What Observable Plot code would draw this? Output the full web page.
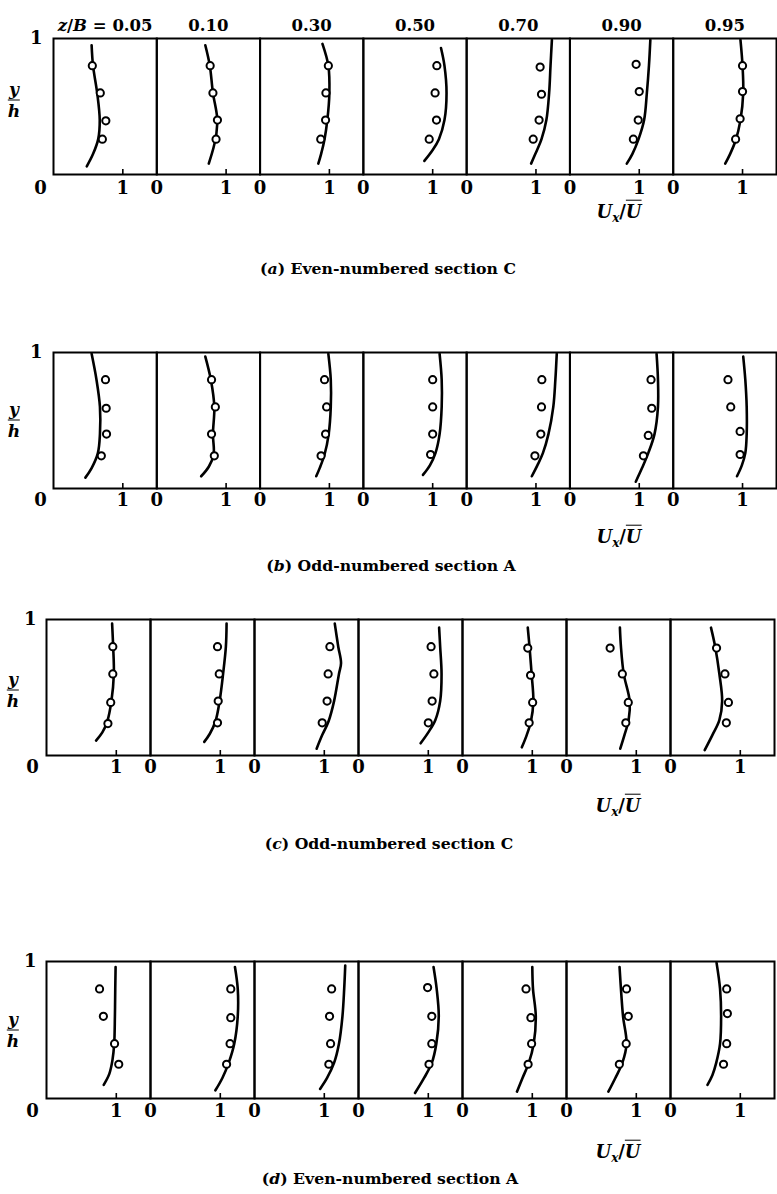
<!DOCTYPE html>
<html><head><meta charset="utf-8">
<script src="https://cdn.jsdelivr.net/npm/d3@7"></script>
<script src="https://cdn.jsdelivr.net/npm/@observablehq/plot@0.6"></script>
<style>
body{margin:0;background:#fff;}
#page{position:relative;width:777px;height:1194px;overflow:hidden;font-family:"DejaVu Serif",serif;color:#000;background:#fff;}
.row{position:absolute;left:0;}
.frac{position:absolute;display:flex;flex-direction:column;align-items:center;font-style:italic;font-weight:bold;font-size:17px;line-height:1;transform:translate(-50%,-50%);}
.frac .bar{width:12px;border-top:1.8px solid #000;margin:2px 0;}
.ulab{position:absolute;font-weight:bold;font-size:18px;transform:translate(-50%,-50%);white-space:nowrap;}
.ulab i{font-style:italic;}
.ulab sub{font-size:12px;font-style:italic;}
.cap{position:absolute;font-weight:bold;font-size:15.7px;transform:translate(-50%,-50%);white-space:nowrap;}
</style></head><body><div id="page"></div>
<script>
// z/B positions (facets)
const zB = ["0.05","0.10","0.30","0.50","0.70","0.90","0.95"];
const xTicks = [0, 1];
const yTicks = [1];

// each panel: [y/h, Ux/U] pairs, curve listed top -> bottom
const curveA = [
  [[0.95,0.55],[0.8,0.57],[0.6,0.63],[0.4,0.667],[0.26,0.645],[0.15,0.57],[0.06,0.48]],
  [[0.95,0.70],[0.8,0.765],[0.6,0.81],[0.42,0.87],[0.3,0.86],[0.2,0.82],[0.08,0.75]],
  [[0.96,0.90],[0.8,0.985],[0.6,1.0],[0.4,0.97],[0.26,0.93],[0.15,0.88],[0.08,0.84]],
  [[0.93,1.12],[0.8,1.17],[0.6,1.2],[0.4,1.17],[0.26,1.09],[0.18,1.0],[0.1,0.88]],
  [[0.99,1.23],[0.8,1.21],[0.6,1.19],[0.4,1.15],[0.26,1.08],[0.15,0.99],[0.08,0.93]],
  [[0.99,1.16],[0.8,1.14],[0.6,1.11],[0.4,1.07],[0.26,0.99],[0.15,0.9],[0.08,0.82]],
  [[0.99,0.97],[0.8,1.0],[0.6,1.01],[0.4,0.97],[0.25,0.9],[0.15,0.82],[0.08,0.75]]
];
const circA = [
  [[0.8,0.56],[0.6,0.675],[0.395,0.755],[0.26,0.705]],
  [[0.8,0.77],[0.6,0.81],[0.4,0.875],[0.26,0.855]],
  [[0.8,0.985],[0.6,0.95],[0.4,0.945],[0.26,0.875]],
  [[0.8,1.06],[0.6,1.035],[0.4,1.055],[0.26,0.95]],
  [[0.79,1.06],[0.59,1.08],[0.4,1.045],[0.26,0.96]],
  [[0.81,0.955],[0.61,1.0],[0.4,0.985],[0.26,0.915]],
  [[0.8,1.0],[0.61,1.0],[0.41,0.965],[0.26,0.9]]
];
const curveB = [
  [[0.99,0.55],[0.8,0.62],[0.6,0.67],[0.4,0.67],[0.26,0.64],[0.15,0.55],[0.08,0.46]],
  [[0.97,0.70],[0.8,0.78],[0.6,0.83],[0.4,0.81],[0.25,0.82],[0.16,0.75],[0.09,0.64]],
  [[0.99,0.985],[0.8,1.02],[0.6,1.02],[0.4,0.99],[0.25,0.93],[0.15,0.86],[0.09,0.81]],
  [[0.99,1.10],[0.8,1.13],[0.6,1.13],[0.4,1.10],[0.26,1.04],[0.17,0.96],[0.1,0.86]],
  [[0.99,1.30],[0.8,1.28],[0.6,1.25],[0.4,1.18],[0.26,1.1],[0.17,1.02],[0.09,0.94]],
  [[0.99,1.25],[0.8,1.27],[0.6,1.27],[0.4,1.22],[0.26,1.13],[0.15,1.04],[0.05,0.95]],
  [[0.97,1.01],[0.8,1.04],[0.6,1.06],[0.4,1.06],[0.26,1.04],[0.17,0.99],[0.09,0.92]]
];
const circB = [
  [[0.8,0.75],[0.59,0.76],[0.4,0.765],[0.24,0.69]],
  [[0.8,0.79],[0.6,0.845],[0.4,0.79],[0.24,0.83]],
  [[0.8,0.93],[0.6,0.96],[0.4,0.945],[0.24,0.88]],
  [[0.8,1.0],[0.6,1.0],[0.4,1.0],[0.25,0.97]],
  [[0.8,1.085],[0.6,1.08],[0.4,1.07],[0.24,0.985]],
  [[0.8,1.17],[0.59,1.18],[0.39,1.13],[0.24,1.06]],
  [[0.8,0.79],[0.6,0.83],[0.42,0.965],[0.25,0.965]]
];
const curveC = [
  [[0.97,0.94],[0.8,0.955],[0.6,0.965],[0.4,0.93],[0.25,0.87],[0.17,0.8],[0.11,0.71]],
  [[0.97,1.09],[0.8,1.08],[0.6,1.04],[0.4,0.99],[0.25,0.93],[0.16,0.85],[0.1,0.77]],
  [[0.97,1.15],[0.8,1.2],[0.68,1.24],[0.6,1.21],[0.4,1.14],[0.25,1.06],[0.15,0.97],[0.05,0.89]],
  [[0.94,1.155],[0.8,1.17],[0.6,1.19],[0.4,1.17],[0.26,1.1],[0.17,1.0],[0.09,0.89]],
  [[0.94,0.935],[0.8,0.96],[0.6,0.99],[0.4,1.015],[0.25,0.98],[0.15,0.92],[0.06,0.85]],
  [[0.94,0.765],[0.8,0.78],[0.6,0.82],[0.4,0.905],[0.26,0.89],[0.15,0.83],[0.05,0.77]],
  [[0.94,0.58],[0.8,0.64],[0.6,0.70],[0.4,0.74],[0.26,0.70],[0.15,0.6],[0.04,0.49]]
];
const circC = [
  [[0.8,0.95],[0.6,0.95],[0.39,0.92],[0.235,0.88]],
  [[0.8,0.96],[0.6,0.985],[0.4,0.97],[0.24,0.96]],
  [[0.8,1.08],[0.6,1.055],[0.4,1.04],[0.24,0.97]],
  [[0.8,1.04],[0.6,1.08],[0.4,1.055],[0.24,1.0]],
  [[0.79,0.935],[0.59,0.975],[0.39,1.005],[0.24,0.955]],
  [[0.79,0.625],[0.6,0.80],[0.39,0.885],[0.24,0.85]],
  [[0.79,0.66],[0.6,0.78],[0.39,0.83],[0.24,0.80]]
];
const curveD = [
  [[0.96,0.99],[0.8,0.985],[0.6,0.98],[0.4,0.97],[0.28,0.945],[0.18,0.9],[0.1,0.82]],
  [[0.96,1.21],[0.8,1.25],[0.6,1.25],[0.4,1.2],[0.26,1.12],[0.15,1.03],[0.06,0.93]],
  [[0.97,1.30],[0.8,1.285],[0.6,1.26],[0.4,1.21],[0.26,1.14],[0.15,1.04],[0.07,0.94]],
  [[0.96,1.075],[0.8,1.12],[0.6,1.15],[0.4,1.115],[0.26,1.05],[0.15,0.94],[0.04,0.81]],
  [[0.96,1.0],[0.8,1.01],[0.6,1.05],[0.4,1.02],[0.26,0.95],[0.15,0.86],[0.05,0.78]],
  [[0.96,0.76],[0.8,0.78],[0.6,0.81],[0.4,0.86],[0.26,0.80],[0.15,0.7],[0.05,0.6]],
  [[0.99,0.66],[0.8,0.71],[0.6,0.725],[0.4,0.71],[0.26,0.655],[0.17,0.6],[0.1,0.53]]
];
const circD = [
  [[0.8,0.76],[0.6,0.815],[0.4,0.975],[0.25,1.035]],
  [[0.8,1.15],[0.59,1.15],[0.4,1.14],[0.25,1.09]],
  [[0.8,1.105],[0.6,1.075],[0.4,1.09],[0.25,1.065]],
  [[0.81,0.99],[0.6,1.05],[0.4,1.05],[0.25,1.01]],
  [[0.8,0.91],[0.59,0.98],[0.4,0.99],[0.25,0.94]],
  [[0.8,0.86],[0.6,0.885],[0.4,0.855],[0.25,0.757]],
  [[0.8,0.805],[0.62,0.815],[0.4,0.805],[0.25,0.76]]
];
const captions = [["a","Even-numbered section C"],["b","Odd-numbered section A"],["c","Odd-numbered section C"],["d","Even-numbered section A"]];

const toRows = panels => panels.flatMap((pts, i) => pts.map(([y, u]) => ({z: zB[i], y, u})));

const page = document.getElementById("page");

const layout = [
  {curves: curveA, circles: circA, top: 0,   mTop: 38, frameH: 136, mLeft: 53, mRight: 1, tickDy: 19.5, firstDx: -13, yPad: 11, header: true,
   fracX: 14, fracY: 100, uX: 619, uY: 213, capX: 388, capY: 268},
  {curves: curveB, circles: circB, top: 342, mTop: 10, frameH: 136, mLeft: 53, mRight: 1, tickDy: 17, firstDx: -13, yPad: 11,
   fracX: 14, fracY: 420, uX: 619, uY: 538, capX: 391, capY: 565},
  {curves: curveC, circles: circC, top: 609, mTop: 10, frameH: 136, mLeft: 46, mRight: 3, tickDy: 17, firstDx: -14, yPad: 10,
   fracX: 13, fracY: 690, uX: 618, uY: 807, capX: 389, capY: 843},
  {curves: curveD, circles: circD, top: 951, mTop: 10, frameH: 137, mLeft: 46, mRight: 3, tickDy: 18.7, firstDx: -14, yPad: 10,
   fracX: 13, fracY: 1030, uX: 618, uY: 1153, capX: 390, capY: 1178}
];

layout.forEach((L, k) => {
  const mBottom = 30;
  const curveRows = toRows(L.curves);
  const circRows = toRows(L.circles);
  const tickRows = zB.flatMap((z, i) => xTicks.map(t => ({z, t, first: i === 0 && t === 0})));
  const marks = [
    Plot.frame({stroke: "black", strokeWidth: 2}),
    Plot.ruleX(xTicks.filter(t => t !== 0), {stroke: "black", strokeWidth: 1.6, insetTop: L.frameH - 5}),
    Plot.line(curveRows, {x: "u", y: "y", fx: "z", curve: "catmull-rom", stroke: "black", strokeWidth: 2.6}),
    Plot.dot(circRows, {x: "u", y: "y", fx: "z", r: 3.6, fill: "white", stroke: "black", strokeWidth: 2}),
    Plot.text(tickRows.filter(d => !d.first), {fx: "z", x: "t", text: d => String(d.t), frameAnchor: "bottom", dy: L.tickDy, fontSize: 18, fontWeight: "bold"}),
    Plot.text(tickRows.filter(d => d.first), {fx: "z", x: "t", text: d => String(d.t), frameAnchor: "bottom", dy: L.tickDy, dx: L.firstDx, fontSize: 18, fontWeight: "bold"}),
    Plot.axisY({ticks: yTicks, tickFormat: d => String(d), tickSize: 0, tickPadding: L.yPad, fontSize: 18, fontWeight: "bold", label: null})
  ];
  if (L.header) {
    marks.push(Plot.text(zB, {fx: d => d, text: (d, i) => i === 0 ? "z/B = " + d : d, frameAnchor: "top", dy: -19.5, fontSize: 16.5, fontWeight: "bold"}));
  }
  const chart = Plot.plot({
    width: 777,
    height: L.mTop + L.frameH + mBottom,
    marginTop: L.mTop, marginBottom: mBottom, marginLeft: L.mLeft, marginRight: L.mRight,
    style: {fontFamily: "'DejaVu Serif', serif", background: "white", color: "black"},
    x: {domain: [0, 1.49], axis: null},
    y: {domain: [0, 1]},
    fx: {domain: zB, padding: 0, round: false, axis: null},
    marks
  });
  chart.classList.add("row");
  chart.style.top = L.top + "px";
  page.appendChild(chart);

  // italic z/B in header
  chart.querySelectorAll("text").forEach(t => {
    if (t.textContent.startsWith("z/B")) {
      const v = t.textContent.split("= ")[1];
      t.innerHTML = '<tspan font-style="italic">z</tspan>/<tspan font-style="italic">B</tspan> = ' + v;
    }
  });

  const frac = document.createElement("div");
  frac.className = "frac";
  frac.style.left = L.fracX + "px";
  frac.style.top = L.fracY + "px";
  frac.innerHTML = '<span>y</span><span class="bar"></span><span>h</span>';
  page.appendChild(frac);

  const ul = document.createElement("div");
  ul.className = "ulab";
  ul.style.left = L.uX + "px";
  ul.style.top = L.uY + "px";
  ul.innerHTML = '<i>U</i><sub>x</sub>/<i style="text-decoration:overline">U</i>';
  page.appendChild(ul);

  const cap = document.createElement("div");
  cap.className = "cap";
  cap.style.left = L.capX + "px";
  cap.style.top = L.capY + "px";
  cap.innerHTML = '(<i>' + captions[k][0] + '</i>) ' + captions[k][1];
  page.appendChild(cap);
});
</script></body></html>
